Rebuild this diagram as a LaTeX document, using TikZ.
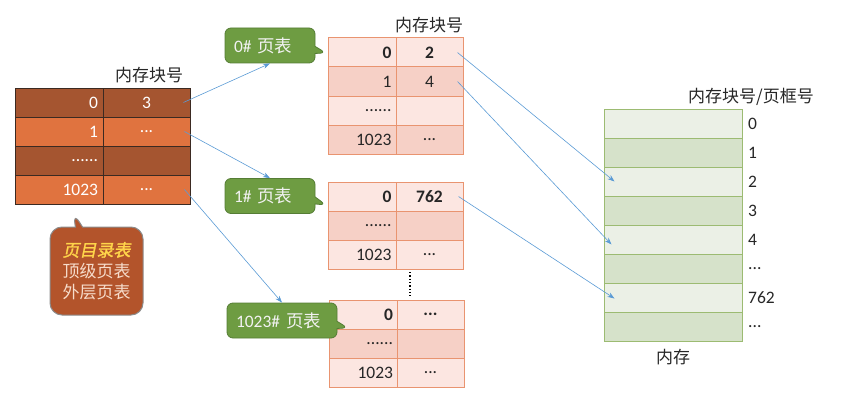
\documentclass[tikz,border=0pt]{standalone}
\usepackage{fontspec}
\setmainfont{Carlito}
\newfontfamily\cjk{Noto Sans CJK SC}
\newfontfamily\cjkslant[FakeSlant=0.2,FakeBold=1.5]{Noto Sans CJK SC}
\usetikzlibrary{arrows.meta,shapes.callouts}
\definecolor{dirdark}{HTML}{A55530}
\definecolor{dirlight}{HTML}{E0733F}
\definecolor{dirline}{HTML}{3B2A22}
\definecolor{ptlight}{HTML}{FCE6E1}
\definecolor{ptdark}{HTML}{F6D0C6}
\definecolor{ptline}{HTML}{E99470}
\definecolor{memlight}{HTML}{EBF0E6}
\definecolor{memdark}{HTML}{D6E2CA}
\definecolor{memline}{HTML}{9CBB72}
\definecolor{gfill}{HTML}{6E9C42}
\definecolor{gline}{HTML}{557D35}
\definecolor{callfill}{HTML}{B3542B}
\definecolor{callline}{HTML}{8C8C8C}
\definecolor{calltitle}{HTML}{FFD54A}
\definecolor{calltext}{HTML}{F6DCCB}
\definecolor{linkblue}{HTML}{5B9BD5}
\tikzset{
    dirleft/.style={draw=dirline, line width=0.8pt, minimum height=29, text width=78, inner xsep=5, inner ysep=0, align=right, text=white},
    dirright/.style={draw=dirline, line width=0.8pt, minimum height=29, minimum width=87, inner sep=0, text=white},
    ptleft/.style={draw=ptline, line width=1pt, minimum height=29, text width=59, inner xsep=4.5, inner ysep=0, align=right, text=black!85},
    ptright/.style={draw=ptline, line width=1pt, minimum height=29, minimum width=67, inner sep=0, text=black!85},
    memcell/.style={draw=memline, line width=1pt, minimum height=29, minimum width=138, inner sep=0},
    memlabel/.style={anchor=west, inner sep=0, text=black!85},
    head/.style={font=\cjk\fontsize{17}{20}\selectfont, text=black!85, inner sep=0},
    tablecall/.style={rectangle callout, rounded corners=6, fill=gfill, draw=gline, line width=0.8pt, minimum height=35, align=left, text=white!95!black, inner xsep=9, inner ysep=0},
    dircall/.style={rectangle callout, rounded corners=12, fill=callfill, draw=callline, line width=1pt, minimum width=93, minimum height=88, align=center, text=calltext, font=\cjk\fontsize{17}{21}\selectfont},
    link/.style={draw=linkblue, line width=0.6pt, -{Stealth[length=7pt, width=5pt]}}
}
\begin{document}
\begin{tikzpicture}[x=1pt, y=-1pt, font=\fontsize{17.5}{20}\selectfont]
    \useasboundingbox (0,0) rectangle (857,404);

    % page directory
    \node[head] (dhead) at (149,75) {内存块号};
    \node[dirleft, fill=dirdark] (d0a) at (59,102.5) {0};
    \node[dirright, fill=dirdark] (d0b) at (146.5,102.5) {3};
    \node[dirleft, fill=dirlight] (d1a) at (59,131.5) {1};
    \node[dirright, fill=dirlight] (d1b) at (146.5,131.5) {...};
    \node[dirleft, fill=dirdark] (d2a) at (59,160.5) {......};
    \node[dirright, fill=dirdark] (d2b) at (146.5,160.5) {};
    \node[dirleft, fill=dirlight] (d3a) at (59,189.5) {1023};
    \node[dirright, fill=dirlight] (d3b) at (146.5,189.5) {...};
    \node[dircall, callout absolute pointer={(73,212)}] (note) at (96.5,271)
        {{\cjkslant\color{calltitle}页目录表}\\顶级页表\\外层页表};

    % page table 0#
    \node[head] (phead) at (429,25) {内存块号};
    \node[ptleft, fill=ptlight] (p0a) at (362,52.5) {\bfseries 0};
    \node[ptright, fill=ptlight] (p0b) at (429.5,52.5) {\bfseries 2};
    \node[ptleft, fill=ptdark] (p1a) at (362,81.5) {1};
    \node[ptright, fill=ptdark] (p1b) at (429.5,81.5) {4};
    \node[ptleft, fill=ptlight] (p2a) at (362,110.5) {......};
    \node[ptright, fill=ptlight] (p2b) at (429.5,110.5) {};
    \node[ptleft, fill=ptdark] (p3a) at (362,139.5) {1023};
    \node[ptright, fill=ptdark] (p3b) at (429.5,139.5) {...};
    \node[tablecall, text width=72, callout absolute pointer={(326,53)}] (c0) at (270,45.5) {0\# {\cjk 页表}};

    % page table 1#
    \node[ptleft, fill=ptlight] (q0a) at (362,196.5) {\bfseries 0};
    \node[ptright, fill=ptlight] (q0b) at (429.5,196.5) {\bfseries 762};
    \node[ptleft, fill=ptdark] (q1a) at (362,225.5) {......};
    \node[ptright, fill=ptdark] (q1b) at (429.5,225.5) {};
    \node[ptleft, fill=ptlight] (q2a) at (362,254.5) {1023};
    \node[ptright, fill=ptlight] (q2b) at (429.5,254.5) {...};
    \node[tablecall, text width=72, callout absolute pointer={(326,205)}] (c1) at (270,196) {1\# {\cjk 页表}};

    \coordinate (vtop) at (410,272);
    \coordinate (vbot) at (410,296);
    \draw[dotted, line width=1.3pt] (vtop) -- (vbot);

    % page table 1023#
    \node[ptleft, fill=ptlight] (r0a) at (363.5,314.5) {\bfseries 0};
    \node[ptright, fill=ptlight] (r0b) at (430.5,314.5) {\bfseries ...};
    \node[ptleft, fill=ptdark] (r1a) at (363.5,343.5) {......};
    \node[ptright, fill=ptdark] (r1b) at (430.5,343.5) {};
    \node[ptleft, fill=ptlight] (r2a) at (363.5,372.5) {1023};
    \node[ptright, fill=ptlight] (r2b) at (430.5,372.5) {...};
    \node[tablecall, text width=92, callout absolute pointer={(348,328)}] (c2) at (282,320.5) {1023\# {\cjk 页表}};

    % memory
    \node[head, anchor=west] (mhead) at (688,97) {内存块号/页框号};
    \node[memcell, fill=memlight] (m0) at (673,123.5) {};
    \node[memcell, fill=memdark] (m1) at (673,152.5) {};
    \node[memcell, fill=memlight] (m2) at (673,181.5) {};
    \node[memcell, fill=memdark] (m3) at (673,210.5) {};
    \node[memcell, fill=memlight] (m4) at (673,239.5) {};
    \node[memcell, fill=memdark] (m5) at (673,268.5) {};
    \node[memcell, fill=memlight] (m6) at (673,297.5) {};
    \node[memcell, fill=memdark] (m7) at (673,326.5) {};
    \node[memlabel] (l0) at (748,123.5) {0};
    \node[memlabel] (l1) at (748,152.5) {1};
    \node[memlabel] (l2) at (748,181.5) {2};
    \node[memlabel] (l3) at (748,210.5) {3};
    \node[memlabel] (l4) at (748,239.5) {4};
    \node[memlabel] (l5) at (748,268.5) {...};
    \node[memlabel] (l6) at (748,297.5) {762};
    \node[memlabel] (l7) at (748,326.5) {...};
    \node[head] (mname) at (673,357) {内存};

    % links
    \draw[link] ([xshift=-7]d0b.east) -- (c0.south);
    \draw[link] ([xshift=-6]d1b.east) -- (c1.north);
    \draw[link] ([xshift=-6]d3b.east) -- (c2.north);
    \draw[link] ([xshift=-6]p0b.east) -- ([xshift=11]m2.west);
    \draw[link] ([xshift=-6]p1b.east) -- ([xshift=8,yshift=-5]m4.west);
    \draw[link] ([xshift=-5]q0b.east) -- ([xshift=11,yshift=-1]m6.west);
\end{tikzpicture}
\end{document}
